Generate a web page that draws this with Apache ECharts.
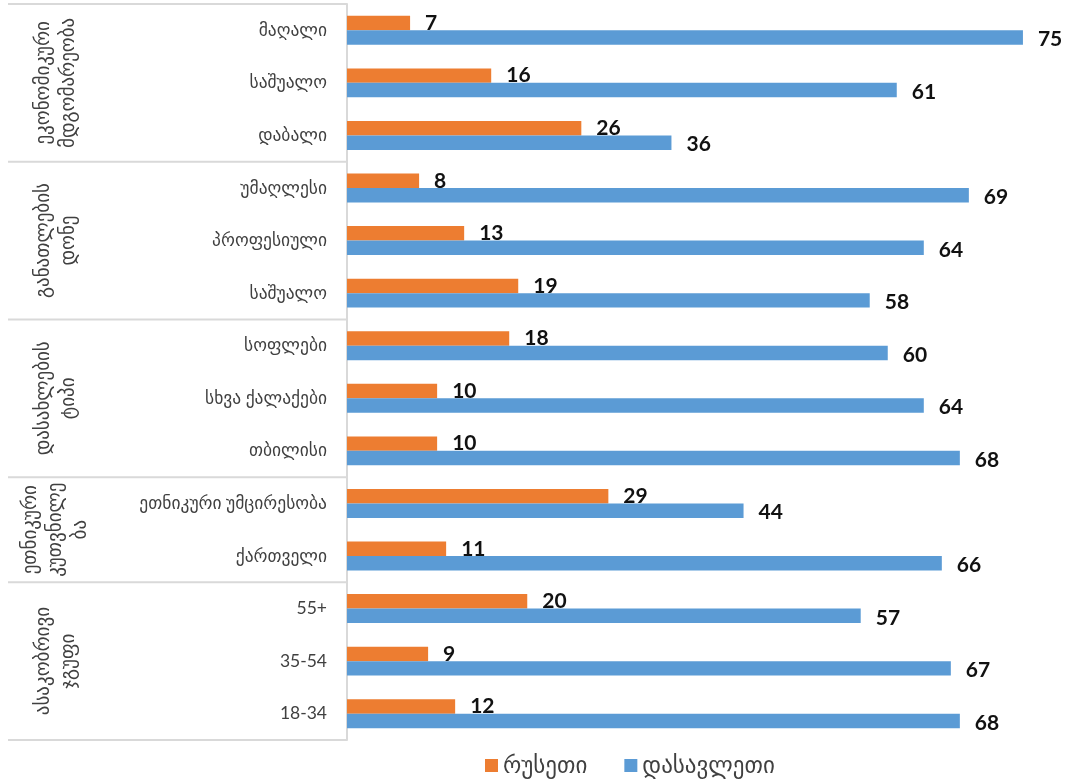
<!DOCTYPE html>
<html>
<head>
<meta charset="utf-8">
<script src="https://cdn.jsdelivr.net/npm/echarts@6/dist/echarts.min.js"></script>
<style>
  html, body { margin: 0; padding: 0; background: #fff; }
  #main { width: 1068px; height: 779px; }
</style>
</head>
<body>
<div id="main"></div>
<script>
// categories top to bottom
var categories = ['მაღალი', 'საშუალო', 'დაბალი', 'უმაღლესი', 'პროფესიული', 'საშუალო',
  'სოფლები', 'სხვა ქალაქები', 'თბილისი', 'ეთნიკური უმცირესობა', 'ქართველი', '55+', '35-54', '18-34'];
// group labels and how many categories each covers
var groups = ['ეკონომიკური\nმდგომარეობა', 'განათლების\nდონე', 'დასახლების\nტიპი', 'ეთნიკური\nკუთვნილე\nბა', 'ასაკობრივი\nჯგუფი'];
var groupSizes = [3, 3, 3, 2, 3];
var seriesNames = ['რუსეთი', 'დასავლეთი'];
var russia = [7, 16, 26, 8, 13, 19, 18, 10, 10, 29, 11, 20, 9, 12];
var west = [75, 61, 36, 69, 64, 58, 60, 64, 68, 44, 66, 57, 67, 68];

var font = "Lato, 'DejaVu Sans', sans-serif";

window.onload = function () {
  var myChart = echarts.init(document.getElementById('main'));
  var option = {
    backgroundColor: '#fff',
    animation: false,
    textStyle: { fontFamily: font },
    grid: { left: 347, right: 0, top: 4, bottom: 39 },
    legend: {
      data: seriesNames,
      left: 480,
      top: 749,
      icon: 'rect',
      itemWidth: 13,
      itemHeight: 13,
      itemGap: 37,
      textStyle: { fontSize: 23, color: '#404040', fontFamily: font }
    },
    xAxis: { type: 'value', min: 0, max: 80, show: false },
    yAxis: {
      type: 'category',
      inverse: true,
      data: categories,
      axisLine: { lineStyle: { color: '#d9d9d9', width: 2 } },
      axisTick: { show: false },
      axisLabel: { margin: 20, fontSize: 17.5, color: '#404040', fontFamily: font }
    },
    series: [{
      name: seriesNames[0],
      type: 'bar',
      data: russia,
      barGap: '0%',
      barCategoryGap: '45%',
      itemStyle: { color: '#ED7D31' },
      label: { show: true, position: 'right', distance: 15, fontSize: 21, fontWeight: 'bold', color: '#111', fontFamily: font }
    }, {
      name: seriesNames[1],
      type: 'bar',
      data: west,
      barGap: '0%',
      barCategoryGap: '45%',
      itemStyle: { color: '#5B9BD5' },
      label: { show: true, position: 'right', distance: 15, fontSize: 21, fontWeight: 'bold', color: '#111', fontFamily: font, offset: [0, 2] }
    }]
  };
  myChart.setOption(option);

  // group separators and rotated group labels, placed from the category axis
  var band = myChart.convertToPixel({ yAxisIndex: 0 }, 1) - myChart.convertToPixel({ yAxisIndex: 0 }, 0);
  var top0 = myChart.convertToPixel({ yAxisIndex: 0 }, 0) - band / 2;
  var elements = [];
  var start = 0;
  elements.push({ type: 'line', shape: { x1: 8, y1: top0, x2: 347, y2: top0 }, style: { stroke: '#d9d9d9', lineWidth: 2 } });
  for (var i = 0; i < groups.length; i++) {
    var y1 = top0 + start * band;
    var y2 = top0 + (start + groupSizes[i]) * band;
    elements.push({ type: 'line', shape: { x1: 8, y1: y2, x2: 347, y2: y2 }, style: { stroke: '#d9d9d9', lineWidth: 2 } });
    elements.push({
      type: 'text',
      x: 55, y: (y1 + y2) / 2,
      rotation: Math.PI / 2,
      style: { text: groups[i], fontSize: 19, fill: '#404040', fontFamily: font, align: 'center', verticalAlign: 'middle', lineHeight: 25 }
    });
    start += groupSizes[i];
  }
  myChart.setOption({ graphic: { elements: elements } });
};
</script>
</body>
</html>
